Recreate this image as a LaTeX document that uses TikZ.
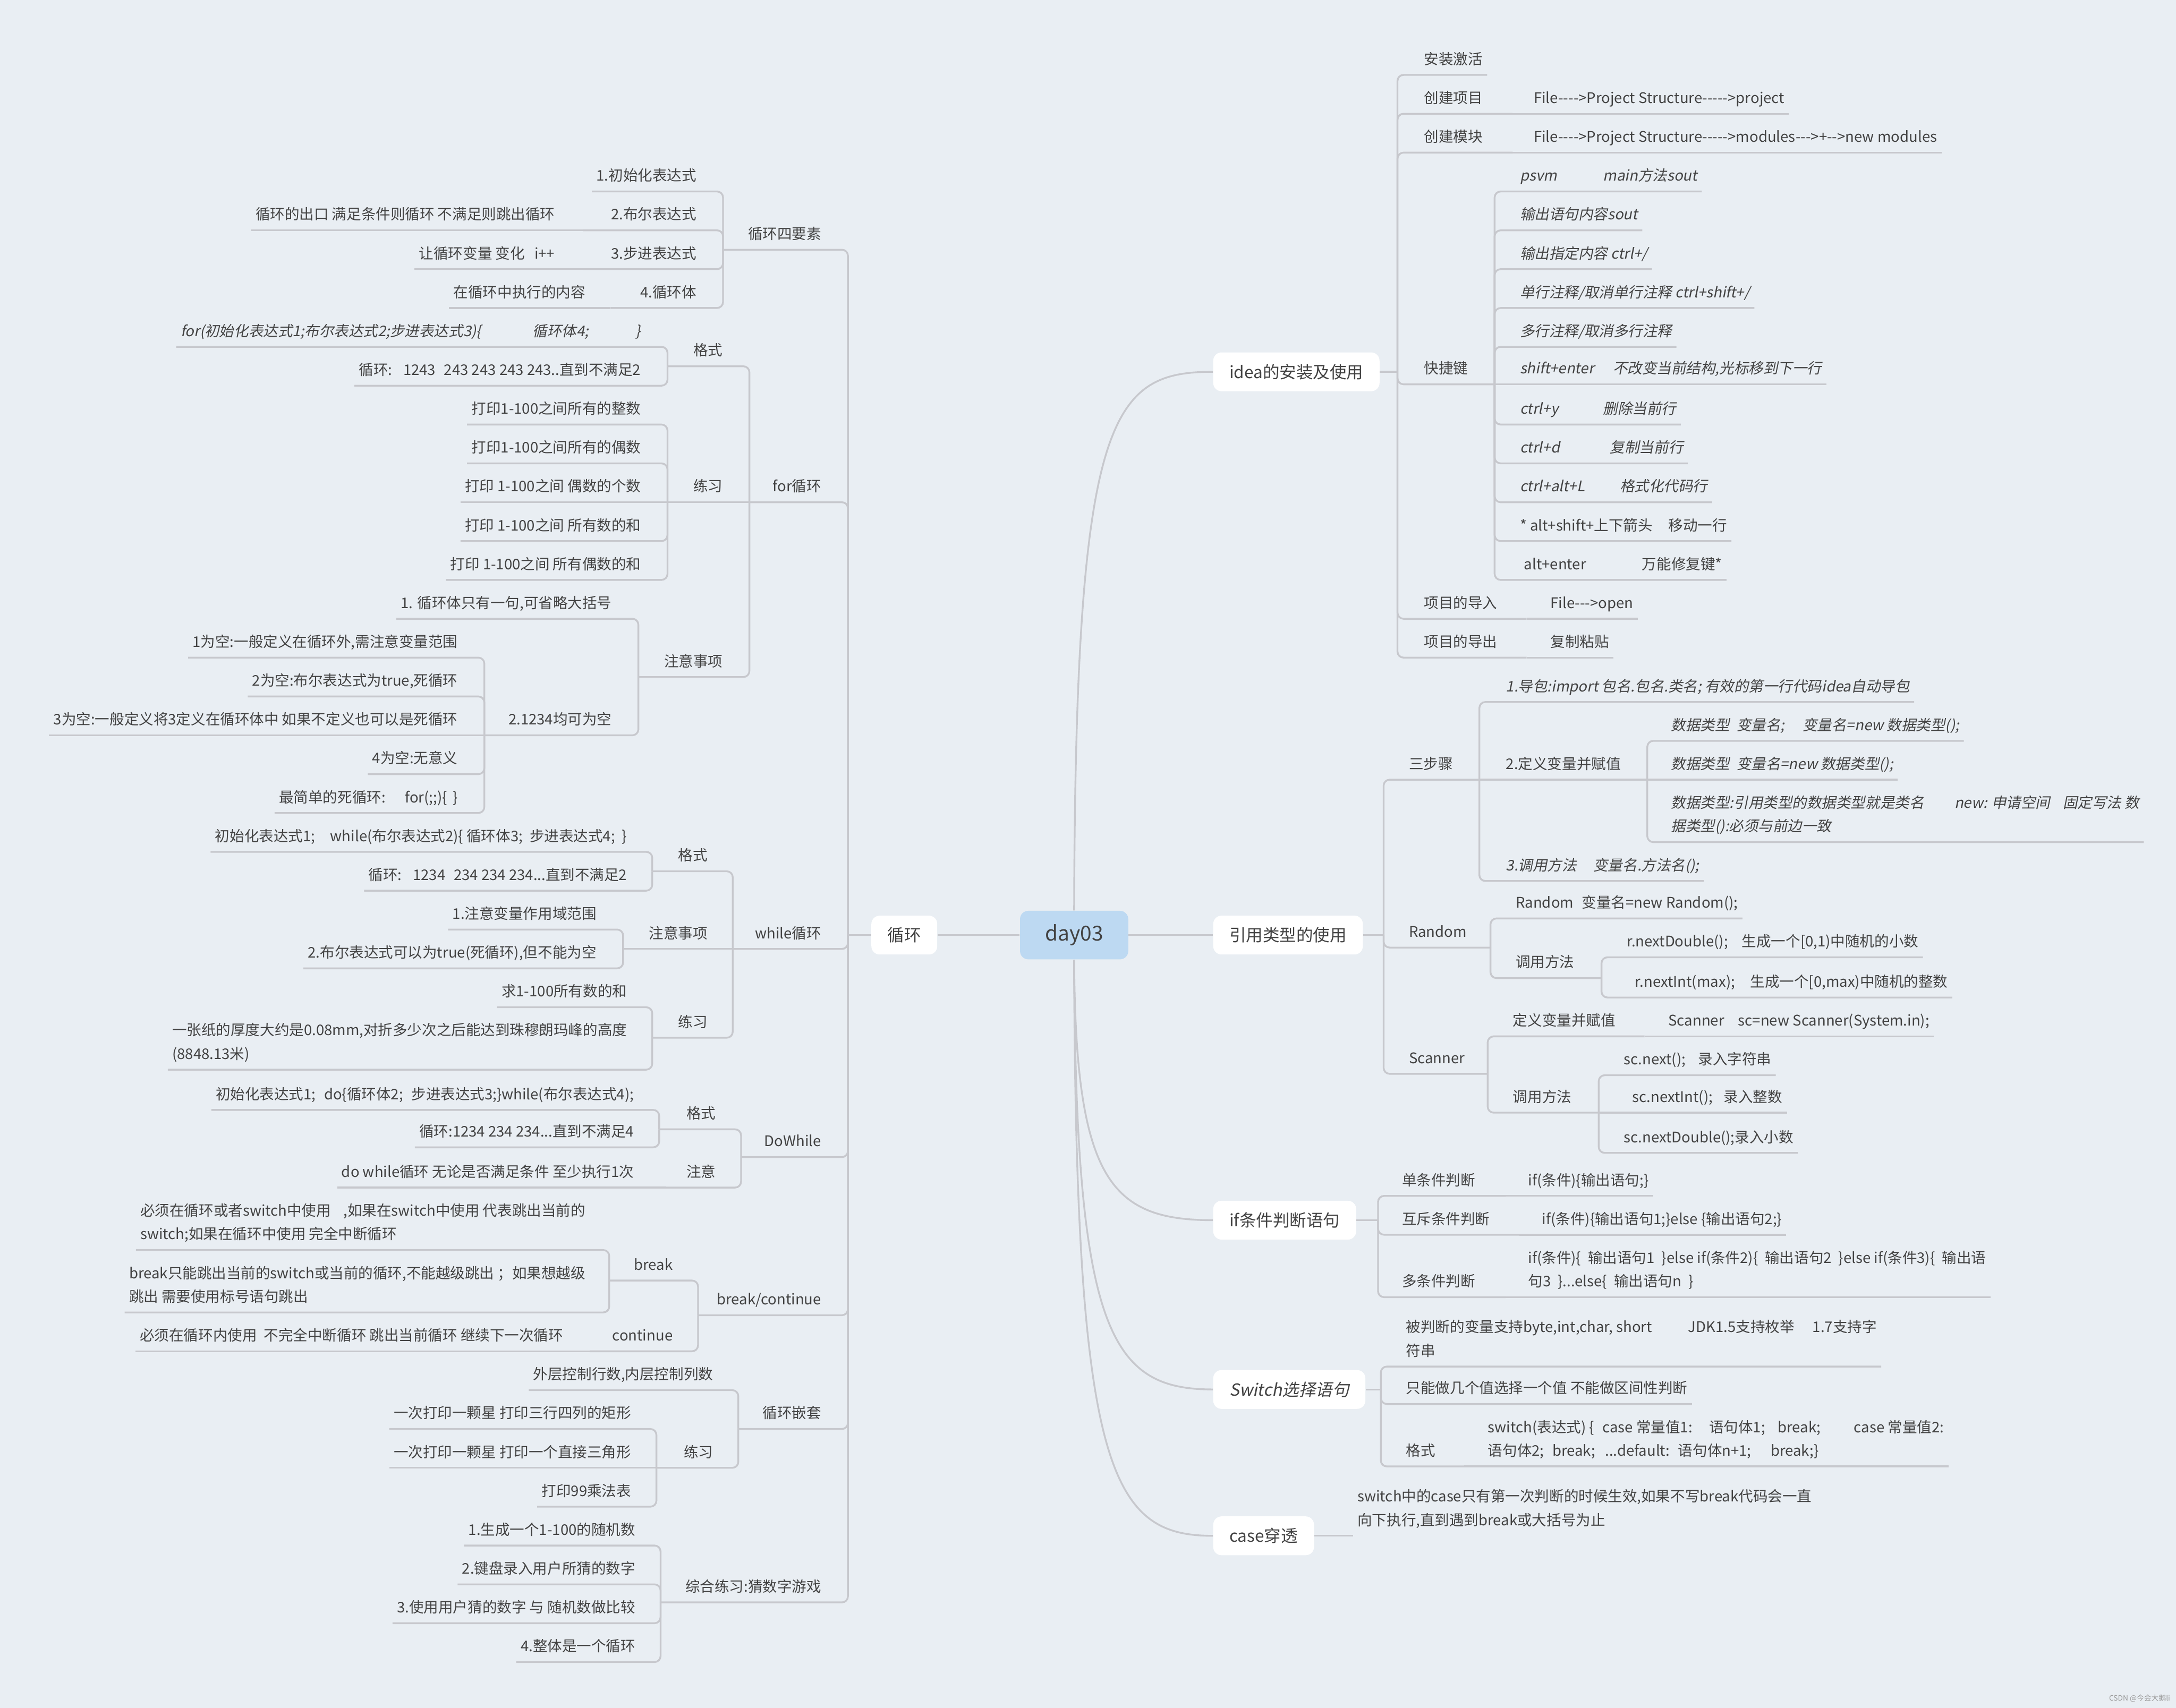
\documentclass[tikz,border=0pt]{standalone}
\usepackage{fontspec}
\newfontfamily\cjk{Noto Sans CJK SC}[AutoFakeSlant=0.2]
\newlength\ux \setlength\ux{0.03cm}
\newcommand\hgap[1]{\hspace*{#1\ux}}
\newcommand\fixbox[2]{\makebox[#1\ux][l]{#2}}
\definecolor{bgc}{RGB}{233,238,243}
\definecolor{lc}{RGB}{199,200,205}
\definecolor{tc}{RGB}{66,66,66}
\definecolor{dayc}{RGB}{189,217,242}
% connectors
\newcommand\cL[3]{\draw[br] (#1.south west) -- (#1.south -| #2,0) -- (#3.south -| #2,0);}
\newcommand\cR[3]{\draw[br] (#1.south east) -- (#1.south -| #2,0) -- (#3.south -| #2,0);}
\newcommand\cP[4]{\draw[br] (#1.south -| #2,0) -- (#1.south -| #3,0) -- (#4.south -| #3,0);}
\newcommand\sL[2]{\draw[br] (#1.south west) -- (#1.south -| #2,0);}
\newcommand\sR[2]{\draw[br] (#1.south east) -- (#1.south -| #2,0);}
\newcommand\sP[3]{\draw[br] (#1.south -| #2,0) -- (#1.south -| #3,0);}
\newcommand\rP[4]{\draw[br] (#1.south -| #2,0) -- (#1.south -| #3,0) -- (#4 -| #3,0);}
\newcommand\rR[3]{\draw[br] (#1.south east) -- (#1.south -| #2,0) -- (#3 -| #2,0);}
\begin{document}
\begin{tikzpicture}[x=0.03cm,y=-0.03cm]
\tikzset{
  lf/.style={anchor=south east, inner xsep=0.09cm, inner ysep=0.22cm, text depth=0pt, align=left,
    font=\cjk\fontsize{9.0}{14.5}\selectfont, text=tc},
  rt/.style={lf, anchor=south west},
  it/.style={font=\cjk\fontsize{9.0}{14.5}\selectfont\itshape},
  mb/.style={fill=white, rounded corners=0.18cm, inner xsep=0.35cm, minimum height=0.84cm,
    font=\cjk\fontsize{10.3}{12}\selectfont, text=tc},
  dayb/.style={fill=dayc, rounded corners=0.18cm, minimum width=2.34cm, minimum height=1.05cm,
    font=\cjk\fontsize{12.7}{14}\selectfont, text=tc},
  br/.style={draw=lc, line width=1.1pt, rounded corners=0.13cm},
  cv/.style={draw=lc, line width=1.1pt},
}
\fill[bgc] (0,0) rectangle (1568,1231);
\useasboundingbox (0,0) rectangle (1568,1231);

% ---------- main nodes ----------
\node[dayb] (day) at (774,674) {day03};
\node[mb, anchor=east] (loop) at (675.6,674) {循环};
\node[mb, anchor=west] (idea) at (874,268) {idea的安装及使用};
\node[mb, anchor=west] (ref) at (874,674) {引用类型的使用};
\node[mb, anchor=west] (ifn) at (874,879.5) {if条件判断语句};
\node[mb, anchor=west, font=\cjk\fontsize{10.3}{12}\selectfont\itshape] (sw) at (874,1001.5) {Switch选择语句};
\node[mb, anchor=west] (cas) at (874,1107) {case穿透};

\draw[cv] (day.west) -- (loop.east);
\draw[cv] (day.east) -- (ref.west);
\draw[cv] (day.north) .. controls (775,300) and (800,268) .. (idea.west);
\draw[cv] (day.south) .. controls (775,850) and (800,879.5) .. (ifn.west);
\draw[cv] (day.south) .. controls (775,960) and (800,1001.5) .. (sw.west);
\draw[cv] (day.south) .. controls (775,1060) and (800,1107) .. (cas.west);

% ---------- LEFT: 循环 ----------
\node[lf] (A) at (595,180) {循环四要素};
\node[lf] (A1) at (505,138) {1.初始化表达式};
\node[lf] (A2) at (505,166) {2.布尔表达式};
\node[lf] (A2c) at (403,166) {循环的出口 满足条件则循环 不满足则跳出循环};
\node[lf] (A3) at (505,194) {3.步进表达式};
\node[lf] (A3c) at (403,194) {让循环变量 变化\hgap{7}i++};
\node[lf] (A4) at (505,222) {4.循环体};
\node[lf] (A4c) at (425,222) {在循环中执行的内容};

\node[lf] (B) at (595,362) {for循环};
\node[lf] (B1) at (524,264) {格式};
\node[lf,it] (B1a) at (465,250) {for(初始化表达式1;布尔表达式2;步进表达式3)\{\hgap{37}循环体4;\hgap{34}\}};
\node[lf] (B1b) at (465,278) {循环:\hgap{8}1243\hgap{6}243 243 243 243..直到不满足2};
\node[lf] (B2) at (524,362) {练习};
\node[lf] (B2a) at (465,306) {打印1-100之间所有的整数};
\node[lf] (B2b) at (465,334) {打印1-100之间所有的偶数};
\node[lf] (B2c) at (465,362) {打印 1-100之间 偶数的个数};
\node[lf] (B2d) at (465,390) {打印 1-100之间 所有数的和};
\node[lf] (B2e) at (465,418) {打印 1-100之间 所有偶数的和};
\node[lf] (B3) at (524,488) {注意事项};
\node[lf] (B3a) at (444,446) {1. 循环体只有一句,可省略大括号};
\node[lf] (B3b) at (444,530) {2.1234均可为空};
\node[lf] (B3b1) at (333,474) {1为空:一般定义在循环外,需注意变量范围};
\node[lf] (B3b2) at (333,502) {2为空:布尔表达式为true,死循环};
\node[lf] (B3b3) at (333,530) {3为空:一般定义将3定义在循环体中 如果不定义也可以是死循环};
\node[lf] (B3b4) at (333,558) {4为空:无意义};
\node[lf] (B3b5) at (333,586) {最简单的死循环:\hgap{14}for(;;)\{\hgap{4}\}};

\node[lf] (C) at (595,684) {while循环};
\node[lf] (C1) at (513,628) {格式};
\node[lf] (C1a) at (455,614) {初始化表达式1;\hgap{11}while(布尔表达式2)\{ 循环体3;\hgap{5}步进表达式4;\hgap{5}\}};
\node[lf] (C1b) at (455,642) {循环:\hgap{8}1234\hgap{6}234 234 234...直到不满足2};
\node[lf] (C2) at (513,684) {注意事项};
\node[lf] (C2a) at (433,670) {1.注意变量作用域范围};
\node[lf] (C2b) at (433,698) {2.布尔表达式可以为true(死循环),但不能为空};
\node[lf] (C3) at (513,748) {练习};
\node[lf] (C3a) at (455,726) {求1-100所有数的和};
\node[lf] (C3b) at (455,771) {一张纸的厚度大约是0.08mm,对折多少次之后能达到珠穆朗玛峰的高度\\(8848.13米)};

\node[lf] (D) at (595,834) {DoWhile};
\node[lf] (D1) at (519,814) {格式};
\node[lf] (D1a) at (460,800) {初始化表达式1;\hgap{6}do\{循环体2;\hgap{6}步进表达式3;\}while(布尔表达式4);};
\node[lf] (D1b) at (460,827) {循环:1234 234 234...直到不满足4};
\node[lf] (D2) at (519,856) {注意};
\node[lf] (D2a) at (460,856) {do while循环 无论是否满足条件 至少执行1次};

\node[lf] (E) at (595,948) {break/continue};
\node[lf] (E1) at (488,923) {break};
\node[lf] (E1a) at (425,901) {必须在循环或者switch中使用\hgap{9},如果在switch中使用 代表跳出当前的\\switch;如果在循环中使用 完全中断循环};
\node[lf] (E1b) at (425,946) {break只能跳出当前的switch或当前的循环,不能越级跳出 ；如果想越级\\跳出 需要使用标号语句跳出};
\node[lf] (E2) at (488,974) {continue};
\node[lf] (E2a) at (409,974) {必须在循环内使用\hgap{5}不完全中断循环 跳出当前循环 继续下一次循环};

\node[lf] (F) at (595,1030) {循环嵌套};
\node[lf] (F1) at (517,1002) {外层控制行数,内层控制列数};
\node[lf] (F2) at (517,1058) {练习};
\node[lf] (F2a) at (458,1030) {一次打印一颗星 打印三行四列的矩形};
\node[lf] (F2b) at (458,1058) {一次打印一颗星 打印一个直接三角形};
\node[lf] (F2c) at (458,1086) {打印99乘法表};

\node[lf] (G) at (595,1155) {综合练习:猜数字游戏};
\node[lf] (G1) at (461,1114) {1.生成一个1-100的随机数};
\node[lf] (G2) at (461,1142) {2.键盘录入用户所猜的数字};
\node[lf] (G3) at (461,1170) {3.使用用户猜的数字 与 随机数做比较};
\node[lf] (G4) at (461,1198) {4.整体是一个循环};

% left connectors
\draw[br] (loop.west -| 611,0) -- (loop.west);
\rP{A}{521}{611}{loop.west}
\cL{A1}{521}{A}
\cP{A2}{420}{521}{A} \sL{A2c}{420}
\cP{A3}{420}{521}{A} \sL{A3c}{420}
\cP{A4}{440}{521}{A} \sL{A4c}{440}
\rP{B}{540}{611}{loop.west}
\cP{B1}{481}{540}{B}
\cL{B1a}{481}{B1} \cL{B1b}{481}{B1}
\sP{B2}{481}{540}
\cL{B2a}{481}{B2} \cL{B2b}{481}{B2} \sL{B2c}{481} \cL{B2d}{481}{B2} \cL{B2e}{481}{B2}
\cP{B3}{460}{540}{B}
\cL{B3a}{460}{B3}
\cP{B3b}{349}{460}{B3}
\cL{B3b1}{349}{B3b} \cL{B3b2}{349}{B3b} \sL{B3b3}{349} \cL{B3b4}{349}{B3b} \cL{B3b5}{349}{B3b}
\rP{C}{528}{611}{loop.west}
\cP{C1}{470}{528}{C}
\cL{C1a}{470}{C1} \cL{C1b}{470}{C1}
\sP{C2}{449}{528}
\cL{C2a}{449}{C2} \cL{C2b}{449}{C2}
\cP{C3}{470}{528}{C}
\cL{C3a}{470}{C3} \cL{C3b}{470}{C3}
\rP{D}{534}{611}{loop.west}
\cP{D1}{475}{534}{D}
\cL{D1a}{475}{D1} \cL{D1b}{475}{D1}
\cP{D2}{480}{534}{D} \sL{D2a}{480}
\rP{E}{503}{611}{loop.west}
\cP{E1}{439}{503}{E}
\cL{E1a}{439}{E1} \cL{E1b}{439}{E1}
\cP{E2}{425}{503}{E} \sL{E2a}{425}
\rP{F}{532}{611}{loop.west}
\cL{F1}{532}{F}
\cP{F2}{473}{532}{F}
\cL{F2a}{473}{F2} \sL{F2b}{473} \cL{F2c}{473}{F2}
\rP{G}{476}{611}{loop.west}
\cL{G1}{476}{G} \cL{G2}{476}{G} \cL{G3}{476}{G} \cL{G4}{476}{G}

% ---------- RIGHT: idea ----------
\node[rt] (I1) at (1023,54) {安装激活};
\node[rt] (I2) at (1023,82) {创建项目};
\node[rt] (I2c) at (1102,82) {File---->Project Structure----->project};
\node[rt] (I3) at (1023,110) {创建模块};
\node[rt] (I3c) at (1102,110) {File---->Project Structure----->modules--->+-->new modules};
\node[rt] (I4) at (1023,277) {快捷键};
\node[rt,it] (K1) at (1092,138) {\fixbox{60}{psvm}main方法sout};
\node[rt,it] (K2) at (1092,166) {输出语句内容sout};
\node[rt,it] (K3) at (1092,194) {输出指定内容 ctrl+/};
\node[rt,it] (K4) at (1092,222) {单行注释/取消单行注释 ctrl+shift+/};
\node[rt,it] (K5) at (1092,250) {多行注释/取消多行注释};
\node[rt,it] (K6) at (1092,277) {\fixbox{67}{shift+enter}不改变当前结构,光标移到下一行};
\node[rt,it] (K7) at (1092,306) {\fixbox{60}{ctrl+y}删除当前行};
\node[rt,it] (K8) at (1092,334) {\fixbox{65}{ctrl+d}复制当前行};
\node[rt,it] (K9) at (1092,362) {\fixbox{72}{ctrl+alt+L}格式化代码行};
\node[rt] (K10) at (1092,390) {\fixbox{107}{* alt+shift+上下箭头}移动一行};
\node[rt] (K11) at (1092,418) {\fixbox{88}{\hgap{3}alt+enter}万能修复键*};
\node[rt] (I5) at (1023,446) {项目的导入};
\node[rt] (I5c) at (1114,446) {File--->open};
\node[rt] (I6) at (1023,474) {项目的导出};
\node[rt] (I6c) at (1114,474) {复制粘贴};

\draw[br] (idea.east -| 1007,0) -- (idea.east);
\rR{I1}{1007}{idea.east}
\rP{I2}{1090}{1007}{idea.east} \sR{I2c}{1090}
\rP{I3}{1090}{1007}{idea.east} \sR{I3c}{1090}
\rP{I4}{1077}{1007}{idea.east}
\cR{K1}{1077}{I4} \cR{K2}{1077}{I4} \cR{K3}{1077}{I4} \cR{K4}{1077}{I4} \cR{K5}{1077}{I4}
\sR{K6}{1077}
\cR{K7}{1077}{I4} \cR{K8}{1077}{I4} \cR{K9}{1077}{I4} \cR{K10}{1077}{I4} \cR{K11}{1077}{I4}
\rP{I5}{1100}{1007}{idea.east} \sR{I5c}{1100}
\rP{I6}{1100}{1007}{idea.east} \sR{I6c}{1100}

% ---------- RIGHT: 引用类型 ----------
\node[rt] (R1) at (1012,562) {三步骤};
\node[rt,it] (R1a) at (1082,506) {1.导包:import 包名.包名.类名; 有效的第一行代码idea自动导包};
\node[rt] (R1b) at (1082,562) {2.定义变量并赋值};
\node[rt,it] (R1b1) at (1201,534) {数据类型\hgap{5}变量名;\hgap{13}变量名=new 数据类型();};
\node[rt,it] (R1b2) at (1201,562) {数据类型\hgap{5}变量名=new 数据类型();};
\node[rt,it] (R1b3) at (1201,607) {数据类型:引用类型的数据类型就是类名\hgap{22}new: 申请空间\hgap{9}固定写法 数\\据类型():必须与前边一致};
\node[rt,it] (R1c) at (1082,635) {3.调用方法\hgap{12}变量名.方法名();};
\node[rt] (R2) at (1012,683) {Random};
\node[rt] (R2a) at (1089,662) {Random\hgap{6}变量名=new Random();};
\node[rt] (R2b) at (1089,705) {调用方法};
\node[rt] (R2b1) at (1169,690) {r.nextDouble();\hgap{10}生成一个[0,1)中随机的小数};
\node[rt] (R2b2) at (1175,719) {r.nextInt(max);\hgap{11}生成一个[0,max)中随机的整数};
\node[rt] (R3) at (1012,774) {Scanner};
\node[rt] (R3a) at (1087,747) {定义变量并赋值};
\node[rt] (R3ac) at (1199,747) {Scanner\hgap{10}sc=new Scanner(System.in);};
\node[rt] (R3b) at (1087,802) {调用方法};
\node[rt] (R3b1) at (1167,775) {sc.next();\hgap{9}录入字符串};
\node[rt] (R3b2) at (1173,802) {sc.nextInt();\hgap{8}录入整数};
\node[rt] (R3b3) at (1167,831) {sc.nextDouble();录入小数};

\draw[br] (ref.east -| 997,0) -- (ref.east);
\rP{R1}{1066}{997}{ref.east}
\cR{R1a}{1066}{R1}
\sP{R1b}{1187}{1066}
\cR{R1c}{1066}{R1}
\cR{R1b1}{1187}{R1b} \sR{R1b2}{1187} \cR{R1b3}{1187}{R1b}
\rP{R2}{1074}{997}{ref.east}
\cR{R2a}{1074}{R2}
\cP{R2b}{1154}{1074}{R2}
\cR{R2b1}{1154}{R2b} \cR{R2b2}{1154}{R2b}
\rP{R3}{1072}{997}{ref.east}
\cP{R3a}{1185}{1072}{R3} \sR{R3ac}{1185}
\cP{R3b}{1152}{1072}{R3}
\cR{R3b1}{1152}{R3b} \sR{R3b2}{1152} \cR{R3b3}{1152}{R3b}

% ---------- RIGHT: if ----------
\node[rt] (IF1) at (1007,862) {单条件判断};
\node[rt] (IF1c) at (1098,862) {if(条件)\{输出语句;\}};
\node[rt] (IF2) at (1007,890) {互斥条件判断};
\node[rt] (IF2c) at (1108,890) {if(条件)\{输出语句1;\}else \{输出语句2;\}};
\node[rt] (IF3) at (1007,935) {多条件判断};
\node[rt] (IF3c) at (1098,935) {if(条件)\{\hgap{5}输出语句1\hgap{5}\}else if(条件2)\{\hgap{5}输出语句2\hgap{5}\}else if(条件3)\{\hgap{5}输出语\\句3\hgap{5}\}...else\{\hgap{5}输出语句n\hgap{5}\}};

\draw[br] (ifn.east -| 993,0) -- (ifn.east);
\rP{IF1}{1085}{993}{ifn.east} \sR{IF1c}{1085}
\rP{IF2}{1095}{993}{ifn.east} \sR{IF2c}{1095}
\rP{IF3}{1085}{993}{ifn.east} \sR{IF3c}{1085}

% ---------- RIGHT: switch ----------
\node[rt] (S1) at (1010,985) {被判断的变量支持byte,int,char, short\hgap{26}JDK1.5支持枚举\hgap{13}1.7支持字\\符串};
\node[rt] (S2) at (1010,1012) {只能做几个值选择一个值 不能做区间性判断};
\node[rt] (S3) at (1010,1057) {格式};
\node[rt] (S3c) at (1069,1057) {switch(表达式) \{\hgap{6}case 常量值1:\hgap{12}语句体1;\hgap{9}break;\hgap{24}case 常量值2:\\语句体2;\hgap{6}break;\hgap{7}...default:\hgap{6}语句体n+1;\hgap{14}break;\}};

\draw[br] (sw.east -| 995,0) -- (sw.east);
\rR{S1}{995}{sw.east}
\rR{S2}{995}{sw.east}
\rP{S3}{1055}{995}{sw.east} \sR{S3c}{1055}

% ---------- RIGHT: case ----------
\node[rt] (CS) at (975,1107) {switch中的case只有第一次判断的时候生效,如果不写break代码会一直\\向下执行,直到遇到break或大括号为止};
\draw[br] (cas.east) -- (CS.south west);

% watermark
\node[anchor=east, inner sep=0pt, font=\cjk\fontsize{4.5}{5}\selectfont, text=black!40] (wm) at (1564,1224) {CSDN @今会大鹅li};
\end{tikzpicture}
\end{document}
